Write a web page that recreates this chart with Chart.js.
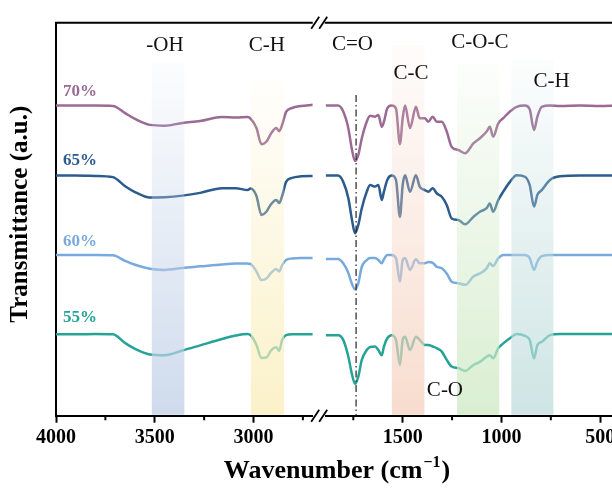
<!DOCTYPE html>
<html><head><meta charset="utf-8">
<script src="https://cdn.jsdelivr.net/npm/chart.js@4/dist/chart.umd.min.js"></script>
<style>
html,body{margin:0;padding:0;background:#fff;overflow:hidden;width:612px;height:490px;}
#wrap{position:relative;width:640px;height:490px;}
</style></head><body>
<div id="wrap"><canvas id="c" width="640" height="490"></canvas></div>
<script>
// ---------- data ----------
const seriesNames = ['70%', '65%', '60%', '55%'];
const seriesColors = ['#9a6a95', '#2c5b8d', '#78aade', '#25a396'];

// high-wavenumber segment (4000 - 2700 cm-1)
const wnHigh = [4000, 3900, 3800, 3712, 3650, 3600, 3525, 3450, 3360, 3270, 3160, 3090, 3030, 3015, 2985, 2960, 2935, 2910, 2885, 2870, 2855, 2835, 2805, 2760, 2700];
const t70High = [78.9, 78.9, 78.9, 78.8, 77.0, 75.5, 74.0, 73.8, 74.5, 75.0, 76.0, 75.9, 76.0, 75.6, 73.2, 69.1, 69.7, 71.9, 73.2, 72.4, 74.0, 77.3, 78.3, 78.8, 79.1];
const t65High = [61.1, 61.1, 61.0, 60.7, 58.4, 56.9, 55.5, 55.6, 56.0, 56.7, 57.9, 57.9, 57.4, 57.8, 55.9, 51.1, 51.9, 53.9, 54.9, 54.1, 55.9, 59.5, 60.5, 60.9, 61.0];
const t60High = [40.9, 40.9, 40.9, 40.8, 39.4, 38.4, 37.4, 37.1, 37.6, 38.0, 38.5, 38.7, 38.7, 38.6, 36.7, 34.5, 34.9, 36.4, 37.3, 36.7, 38.3, 39.6, 40.0, 40.1, 40.1];
const t55High = [20.7, 20.7, 20.8, 20.7, 18.5, 17.0, 15.6, 15.4, 16.6, 17.9, 19.5, 20.4, 20.8, 20.5, 18.0, 14.7, 14.8, 16.7, 17.4, 16.5, 19.3, 20.5, 20.7, 20.7, 20.7];

// low-wavenumber segment (1890 - 420 cm-1)
const wnLow = [1890, 1827, 1801, 1775, 1758, 1741, 1725, 1707, 1682, 1665, 1640, 1623, 1606, 1595, 1578, 1556, 1534, 1514, 1500, 1488, 1463, 1433, 1414, 1388, 1370, 1348, 1328, 1302, 1277, 1252, 1218, 1184, 1142, 1109, 1075, 1059, 1042, 1016, 991, 957, 923, 881, 857, 835, 818, 796, 754, 703, 602, 501, 420];
const t70Low = [78.9, 78.9, 77.4, 73.1, 68.0, 64.8, 66.3, 70.6, 74.8, 76.3, 76.1, 76.5, 73.5, 74.8, 78.2, 78.9, 78.2, 69.1, 75.7, 78.9, 73.2, 78.6, 75.7, 75.7, 74.8, 76.1, 74.8, 74.8, 72.3, 68.4, 67.6, 66.8, 69.3, 70.6, 72.3, 73.5, 71.0, 74.4, 75.7, 77.4, 78.6, 78.9, 78.0, 72.7, 76.1, 78.6, 78.9, 78.8, 78.9, 78.8, 78.9];
const t65Low = [61.1, 61.1, 59.5, 55.3, 50.2, 46.4, 48.5, 52.8, 57.0, 58.7, 58.3, 58.7, 54.9, 57.0, 60.0, 61.1, 60.0, 50.6, 58.7, 61.2, 57.0, 61.2, 58.3, 57.4, 57.0, 57.9, 56.6, 55.7, 53.6, 50.2, 49.8, 48.7, 50.6, 51.9, 52.8, 54.0, 51.9, 54.9, 57.0, 59.5, 61.2, 60.8, 58.7, 53.2, 56.2, 57.4, 60.0, 60.9, 61.1, 61.1, 61.1];
const t60Low = [39.9, 39.9, 38.8, 36.3, 33.7, 32.2, 33.7, 37.9, 39.6, 40.1, 40.1, 39.6, 38.8, 39.8, 40.9, 40.9, 40.1, 34.1, 39.6, 40.1, 37.1, 39.8, 38.8, 38.8, 39.1, 38.9, 37.9, 37.5, 36.2, 34.1, 33.7, 33.3, 35.4, 36.2, 37.5, 38.8, 38.1, 40.1, 40.9, 40.9, 40.9, 40.9, 40.1, 37.1, 39.2, 40.6, 40.9, 40.9, 40.9, 40.9, 40.9];
const t55Low = [20.5, 20.5, 19.3, 15.0, 10.8, 8.1, 9.9, 14.2, 16.7, 17.5, 17.6, 16.7, 15.4, 17.6, 19.7, 20.5, 19.3, 12.9, 19.3, 20.1, 16.7, 20.1, 19.3, 18.0, 18.0, 17.6, 17.2, 16.3, 14.2, 12.5, 12.1, 11.4, 12.9, 13.7, 15.0, 15.4, 14.6, 17.2, 18.4, 19.7, 20.8, 20.3, 19.3, 14.6, 18.0, 18.8, 20.5, 20.8, 20.8, 20.8, 20.8];

// axis ranges and ticks
const highRange = [2700, 4000];
const lowRange = [420, 1890];
const majorHigh = [4000, 3500, 3000];
const majorLow = [1500, 1000, 500];
const minorHigh = [3750, 3250, 2750];
const minorLow = [1750, 1250, 750];

// series labels
const seriesLabelX = 3965;
const seriesLabelY = [82.5, 64.9, 44.4, 25.0];

// highlighted bands
const bandAxis = ['xHigh', 'xHigh', 'xLow', 'xLow', 'xLow'];
const bandFrom = [3515, 3013, 1555, 1225, 950];
const bandTo = [3350, 2845, 1390, 1011, 737];
const bandTop = [89.7, 84.9, 94.3, 89.7, 90.5];
const bandRGB = ['195,210,232', '250,238,188', '245,212,194', '208,234,198', '195,222,222'];

// peak assignments
const peakText = ['-OH', 'C-H', 'C=O', 'C-C', 'C-O-C', 'C-H', 'C-O'];
const peakAxis = ['xHigh', 'xHigh', 'xLow', 'xLow', 'xLow', 'xLow', 'xLow'];
const peakX = [3448, 2932, 1754, 1458, 1109, 746, 1286];
const peakY = [94.3, 94.3, 94.5, 87.1, 95.0, 85.0, 6.4];

// C=O reference line
const coLineWn = 1736;
const coLineTop = 81.6;

const xTitleMain = 'Wavenumber (cm';
const xTitleSup = '\u22121';
const xTitleEnd = ')';
const yTitle = 'Transmittance (a.u.)';

// ---------- build ----------
const SERIF = '"Liberation Serif", "Times New Roman", serif';
const highVals = [t70High, t65High, t60High, t55High];
const lowVals = [t70Low, t65Low, t60Low, t55Low];
const datasets = [];
seriesNames.forEach((name, i) => {
  [[wnHigh, highVals[i], 'xHigh'], [wnLow, lowVals[i], 'xLow']].forEach(([wn, vals, ax]) => {
    datasets.push({
      label: name,
      data: wn.map((w, k) => ({x: w, y: vals[k]})),
      xAxisID: ax, yAxisID: 'y',
      borderColor: seriesColors[i],
      borderWidth: 2.5,
      pointRadius: 0,
      fill: false,
      cubicInterpolationMode: 'monotone'
    });
  });
});

function fitX(s) { s.height = 74.3; s.paddingLeft = 0; s.paddingRight = 0; }
const tickFont = {family: SERIF, size: 20, weight: 'bold'};
const gridOpts = {display: true, drawOnChartArea: false, drawTicks: true, tickLength: 7, tickWidth: 2, tickColor: '#000'};
const borderOpts = {display: true, width: 2, color: '#000'};
const plainLabel = v => String(v);

const overlay = {
  id: 'overlay',
  afterDatasetsDraw(chart) {
    const {ctx, chartArea, scales} = chart;
    const ys = scales.y;
    const bottom = chartArea.bottom - 1;
    ctx.save();
    // bands (semi-transparent, on top of spectra)
    bandFrom.forEach((f, i) => {
      const xs = scales[bandAxis[i]];
      const a = xs.getPixelForValue(f), b = xs.getPixelForValue(bandTo[i]);
      const top = ys.getPixelForValue(bandTop[i]);
      const g = ctx.createLinearGradient(0, top, 0, bottom);
      g.addColorStop(0, 'rgba(' + bandRGB[i] + ',0.06)');
      g.addColorStop(1, 'rgba(' + bandRGB[i] + ',0.8)');
      ctx.fillStyle = g;
      ctx.fillRect(Math.min(a, b), top, Math.abs(b - a), bottom - top);
    });
    // C=O dash-dot line
    const cx = scales.xLow.getPixelForValue(coLineWn);
    ctx.strokeStyle = '#222';
    ctx.lineWidth = 1.2;
    ctx.setLineDash([7, 3, 1.5, 3]);
    ctx.beginPath();
    ctx.moveTo(cx, ys.getPixelForValue(coLineTop));
    ctx.lineTo(cx, chartArea.bottom);
    ctx.stroke();
    ctx.setLineDash([]);
    // peak labels
    ctx.fillStyle = '#111';
    ctx.font = '21px ' + SERIF;
    ctx.textAlign = 'center';
    ctx.textBaseline = 'middle';
    peakText.forEach((t, i) => {
      ctx.fillText(t, scales[peakAxis[i]].getPixelForValue(peakX[i]), ys.getPixelForValue(peakY[i]));
    });
    // series labels
    ctx.font = 'bold 17px ' + SERIF;
    ctx.textAlign = 'left';
    seriesNames.forEach((t, i) => {
      ctx.fillStyle = seriesColors[i];
      ctx.fillText(t, scales.xHigh.getPixelForValue(seriesLabelX), ys.getPixelForValue(seriesLabelY[i]));
    });
    // top frame
    ctx.strokeStyle = '#000';
    ctx.lineWidth = 2;
    ctx.beginPath();
    ['xHigh', 'xLow'].forEach(k => {
      ctx.moveTo(scales[k].left - 1, chartArea.top);
      ctx.lineTo(scales[k].right, chartArea.top);
    });
    ctx.stroke();
    // minor ticks
    ctx.beginPath();
    minorHigh.forEach(v => { const x = scales.xHigh.getPixelForValue(v); ctx.moveTo(x, chartArea.bottom); ctx.lineTo(x, chartArea.bottom + 4.5); });
    minorLow.forEach(v => { const x = scales.xLow.getPixelForValue(v); ctx.moveTo(x, chartArea.bottom); ctx.lineTo(x, chartArea.bottom + 4.5); });
    ctx.stroke();
    // break marks
    const gx = (scales.xHigh.right + scales.xLow.left) / 2;
    ctx.lineWidth = 1.8;
    ctx.beginPath();
    [chartArea.top, chartArea.bottom].forEach(yy => {
      [-4, 4].forEach(d => {
        ctx.moveTo(gx + d - 4, yy + 6);
        ctx.lineTo(gx + d + 4, yy - 6);
      });
    });
    ctx.stroke();
    // axis titles
    ctx.fillStyle = '#000';
    ctx.textBaseline = 'alphabetic';
    ctx.textAlign = 'left';
    ctx.font = 'bold 26px ' + SERIF;
    const w1 = ctx.measureText(xTitleMain).width;
    const w3 = ctx.measureText(xTitleEnd).width;
    ctx.font = 'bold 16px ' + SERIF;
    const w2 = ctx.measureText(xTitleSup).width;
    let tx = (chartArea.left + chartArea.right) / 2 - (w1 + w2 + w3) / 2;
    const ty = chartArea.bottom + 62;
    ctx.font = 'bold 26px ' + SERIF;
    ctx.fillText(xTitleMain, tx, ty);
    ctx.font = 'bold 16px ' + SERIF;
    ctx.fillText(xTitleSup, tx + w1 + 1, ty - 11);
    ctx.font = 'bold 26px ' + SERIF;
    ctx.fillText(xTitleEnd, tx + w1 + w2 + 2, ty);
    ctx.save();
    ctx.translate(21, (chartArea.top + chartArea.bottom) / 2 - 5);
    ctx.rotate(-Math.PI / 2);
    ctx.textAlign = 'center';
    ctx.textBaseline = 'middle';
    ctx.font = 'bold 25px ' + SERIF;
    ctx.fillText(yTitle, 0, 0);
    ctx.restore();
    ctx.restore();
  }
};

new Chart(document.getElementById('c'), {
  type: 'line',
  data: {datasets},
  options: {
    responsive: false,
    animation: false,
    devicePixelRatio: 1,
    layout: {padding: {left: 0, right: 24, top: 22.7, bottom: 0}},
    plugins: {legend: {display: false}, tooltip: {enabled: false}},
    scales: {
      xHigh: {
        type: 'linear', position: 'bottom', reverse: true,
        min: highRange[0], max: highRange[1],
        stack: 'wn', stackWeight: highRange[1] - highRange[0], weight: 1,
        afterBuildTicks: s => { s.ticks = majorHigh.map(v => ({value: v})); },
        afterFit: fitX,
        ticks: {font: tickFont, color: '#000', padding: 3, maxRotation: 0, autoSkip: false, callback: plainLabel},
        grid: gridOpts, border: borderOpts
      },
      xGap: {
        type: 'linear', position: 'bottom', min: 0, max: 1,
        stack: 'wn', stackWeight: 65.3, weight: 2,
        afterBuildTicks: s => { s.ticks = []; },
        afterFit: fitX,
        ticks: {display: false},
        grid: {display: false}, border: {display: false}
      },
      xLow: {
        type: 'linear', position: 'bottom', reverse: true,
        min: lowRange[0], max: lowRange[1],
        stack: 'wn', stackWeight: lowRange[1] - lowRange[0], weight: 3,
        afterBuildTicks: s => { s.ticks = majorLow.map(v => ({value: v})); },
        afterFit: fitX,
        ticks: {font: tickFont, color: '#000', padding: 3, maxRotation: 0, autoSkip: false, callback: plainLabel},
        grid: gridOpts, border: borderOpts
      },
      y: {
        type: 'linear', position: 'left', min: 0, max: 100,
        afterFit: s => { s.width = 56; },
        ticks: {display: false},
        grid: {display: false},
        border: borderOpts
      }
    }
  },
  plugins: [overlay]
});
</script>
</body></html>
